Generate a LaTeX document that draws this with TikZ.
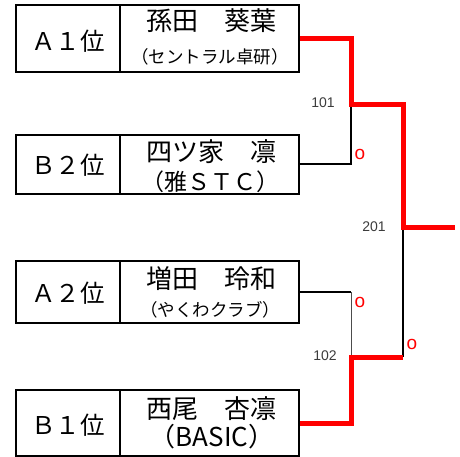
\documentclass[tikz,border=0pt]{standalone}
\usepackage{fontspec}
\setmainfont{Noto Sans CJK JP}
\newfontfamily\labfont{Liberation Sans}
\definecolor{tred}{RGB}{255,0,0}
\definecolor{tgray}{RGB}{60,60,60}
\begin{document}
\begin{tikzpicture}[x=1pt,y=-1pt,
  cell/.style={draw=black,line width=2.5pt,inner sep=0pt,minimum height=#1},
  rankt/.style={font=\fontsize{24.5}{26}\selectfont,inner sep=0pt},
  namet/.style={font=\fontsize{26}{28}\selectfont,inner sep=0pt},
  subs/.style={font=\fontsize{17.5}{19}\selectfont,inner sep=0pt},
  subl/.style={font=\fontsize{23}{25}\selectfont,inner sep=0pt},
  subb/.style={font=\fontsize{26}{28}\selectfont,inner sep=0pt},
  wire/.style={draw=black,line width=2pt},
  thinwire/.style={draw=black!70,line width=1pt},
  win/.style={draw=tred,line width=5pt},
  num/.style={font=\labfont\fontsize{14}{16}\selectfont,text=tgray,inner sep=0pt},
  omark/.style={font=\labfont\fontsize{19}{21}\selectfont,text=tred,inner sep=0pt}]
\useasboundingbox (0,0) rectangle (460,457);
% boxes
\node[cell=67pt,minimum width=104pt] (r1) at (68,38.5) {};
\node[cell=67pt,minimum width=179pt] (c1) at (209.5,38.5) {};
\node[cell=59pt,minimum width=104pt] (r2) at (68,164.5) {};
\node[cell=59pt,minimum width=179pt] (c2) at (209.5,164.5) {};
\node[cell=62pt,minimum width=104pt] (r3) at (68,292) {};
\node[cell=62pt,minimum width=179pt] (c3) at (209.5,292) {};
\node[cell=66pt,minimum width=104pt] (r4) at (68,423) {};
\node[cell=66pt,minimum width=179pt] (c4) at (209.5,423) {};
% texts
\node[rankt] (t1) at (68,41) {Ａ１位};
\node[rankt] (t2) at (68,165) {Ｂ２位};
\node[rankt] (t3) at (68,293) {Ａ２位};
\node[rankt] (t4) at (68,425) {Ｂ１位};
\node[namet] (n1) at (211,21) {孫田　葵葉};
\node[subs] (s1) at (210,57) {（セントラル卓研）};
\node[namet] (n2) at (211,152) {四ツ家　凛};
\node[subl] (s2) at (210,182) {（雅ＳＴＣ）};
\node[namet] (n3) at (211,279) {増田　玲和};
\node[subs] (s3) at (210,310) {（やくわクラブ）};
\node[namet] (n4) at (211,409) {西尾　杏凛};
\node[subb] (s4) at (212,437) {（BASIC）};
% junctions
\coordinate (j101) at (351,105);
\coordinate (j102) at (351,357);
\coordinate (j201) at (403,227);
\coordinate (j102r) at (403,357);
\coordinate (j101r) at (403,105);
\coordinate (fin) at (455,227);
% labels
\node[num] (l101) at (323,103) {101};
\node[num] (l102) at (325,356) {102};
\node[num] (l201) at (374,227) {201};
\node[omark] (o1) at (360,154) {o};
\node[omark] (o2) at (360,302) {o};
\node[omark] (o3) at (412,344) {o};
% black connectors
\draw[wire] (c2.east) -| (j101);
\draw[wire] (c3.east) -- (c3.east -| j102);
\draw[thinwire] (c3.east -| j102) -- (j102);
\draw[wire] (j201) -- (j102r);
% red connectors
\draw[win] (c1.east) -| (j101) -- (j101r) -- (j201) -- (fin);
\draw[win] (c4.east) -| (j102) -- (j102r);
\end{tikzpicture}
\end{document}
